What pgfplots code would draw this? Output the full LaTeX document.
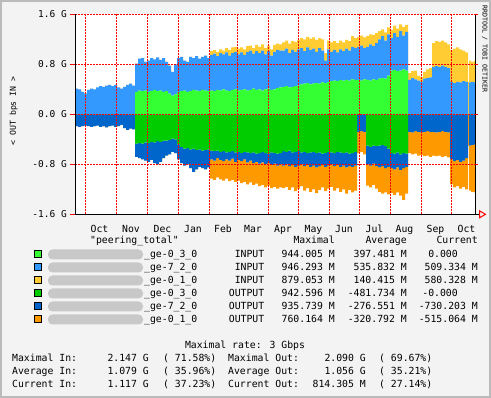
\documentclass[border=0pt]{standalone}
\usepackage{fontspec}
\usepackage{pgfplots}
\pgfplotsset{compat=1.18}
\usepackage{pgfplotstable}
\newfontfamily\mono{DejaVu Sans Mono}
\newcommand\lf{\mono\fontsize{9.8bp}{11bp}\selectfont}
\newcommand\tf{\mono\fontsize{9.5bp}{11bp}\selectfont}
\definecolor{gin}{HTML}{33FF33}
\definecolor{bin}{HTML}{3399FF}
\definecolor{yin}{HTML}{FFCC33}
\definecolor{gout}{HTML}{00CC00}
\definecolor{bout}{HTML}{0066CC}
\definecolor{oout}{HTML}{FF9900}
\definecolor{bgc}{HTML}{F3F3F3}
\definecolor{frm}{HTML}{BBBBBB}
\definecolor{blob}{HTML}{C8C8C8}
\definecolor{gridred}{HTML}{FF0000}

\pgfplotstableread{
x gin bin yin gout bout oout
0 0 0.41 0 0 -0.19 0
3 0 0.40 0 0 -0.20 0
6 0 0.36 0 0 -0.19 0
9 0 0.33 0 0 -0.18 0
12 0 0.39 0 0 -0.19 0
15 0 0.41 0 0 -0.20 0
18 0 0.40 0 0 -0.19 0
21 0 0.43 0 0 -0.18 0
24 0 0.45 0 0 -0.20 0
27 0 0.44 0 0 -0.19 0
30 0 0.46 0 0 -0.21 0
33 0 0.47 0 0 -0.19 0
36 0 0.45 0 0 -0.18 0
39 0 0.47 0 0 -0.20 0
42 0 0.43 0 0 -0.19 0
45 0 0.41 0 0 -0.17 0
48 0 0.44 0 0 -0.22 0
51 0 0.47 0 0 -0.25 0
54 0 0.49 0 0 -0.23 0
57 0 0.46 0 0 -0.24 0
60 0.36 0.45 0 -0.47 -0.21 0
63 0.38 0.51 0 -0.46 -0.24 0
66 0.37 0.53 0 -0.47 -0.25 0
69 0.38 0.46 0 -0.45 -0.29 0
72 0.36 0.50 0 -0.46 -0.30 0
75 0.37 0.53 0 -0.44 -0.29 0
78 0.39 0.49 0 -0.45 -0.33 0
81 0.37 0.54 0 -0.43 -0.37 0
84 0.38 0.49 0 -0.44 -0.32 0
87 0.36 0.54 0 -0.42 -0.28 0
90 0.37 0.47 0 -0.42 -0.24 0
93 0.33 0.45 0 -0.41 -0.23 0
96 0.30 0.38 0 -0.39 -0.21 0
99 0.32 0.48 0 -0.40 -0.22 0
102 0.36 0.54 0 -0.48 -0.24 0
105 0.37 0.55 0 -0.52 -0.26 0
108 0.38 0.48 0 -0.55 -0.27 0
111 0.36 0.48 0 -0.54 -0.26 0
114 0.37 0.55 0 -0.56 -0.30 0
117 0.39 0.51 0 -0.55 -0.37 0
120 0.38 0.55 0 -0.57 -0.31 0
123 0.37 0.52 0 -0.56 -0.28 0
126 0.39 0.53 0 -0.58 -0.28 0
129 0.38 0.56 0 -0.57 -0.31 0
132 0.37 0.53 0 -0.56 -0.29 0
135 0.38 0.57 0.06 -0.58 -0.14 -0.31
138 0.37 0.60 0.06 -0.59 -0.15 -0.31
141 0.39 0.54 0.07 -0.58 -0.12 -0.31
144 0.38 0.60 0.06 -0.60 -0.13 -0.31
147 0.40 0.56 0.06 -0.59 -0.16 -0.31
150 0.38 0.61 0.07 -0.61 -0.11 -0.31
153 0.37 0.57 0.09 -0.60 -0.14 -0.33
156 0.39 0.59 0.09 -0.59 -0.12 -0.34
159 0.40 0.60 0.08 -0.61 -0.15 -0.32
162 0.38 0.58 0.09 -0.60 -0.13 -0.33
165 0.39 0.60 0.08 -0.62 -0.13 -0.35
168 0.40 0.55 0.09 -0.60 -0.12 -0.36
171 0.38 0.62 0.09 -0.61 -0.16 -0.35
174 0.39 0.63 0.08 -0.62 -0.12 -0.35
177 0.41 0.56 0.09 -0.61 -0.17 -0.35
180 0.39 0.62 0.10 -0.63 -0.13 -0.35
183 0.40 0.58 0.10 -0.62 -0.17 -0.36
186 0.38 0.64 0.10 -0.60 -0.17 -0.36
189 0.40 0.56 0.10 -0.62 -0.18 -0.37
192 0.41 0.60 0.09 -0.63 -0.15 -0.36
195 0.39 0.55 0.10 -0.61 -0.20 -0.37
198 0.40 0.60 0.11 -0.62 -0.17 -0.37
201 0.42 0.61 0.10 -0.63 -0.19 -0.37
204 0.43 0.59 0.10 -0.62 -0.18 -0.37
207 0.44 0.58 0.13 -0.59 -0.23 -0.36
210 0.45 0.60 0.13 -0.60 -0.20 -0.36
213 0.43 0.55 0.15 -0.58 -0.25 -0.38
216 0.44 0.59 0.14 -0.61 -0.20 -0.36
219 0.45 0.55 0.16 -0.60 -0.24 -0.39
222 0.46 0.58 0.15 -0.59 -0.23 -0.37
225 0.48 0.58 0.16 -0.61 -0.19 -0.35
228 0.49 0.52 0.19 -0.60 -0.23 -0.39
231 0.50 0.57 0.17 -0.62 -0.19 -0.37
234 0.48 0.55 0.18 -0.61 -0.23 -0.40
237 0.49 0.56 0.18 -0.60 -0.22 -0.38
240 0.50 0.50 0.19 -0.62 -0.23 -0.41
243 0.49 0.57 0.16 -0.61 -0.22 -0.38
246 0.51 0.51 0.18 -0.63 -0.18 -0.36
249 0.50 0.36 0.12 -0.62 -0.22 -0.39
252 0.52 0.52 0.14 -0.60 -0.22 -0.37
255 0.53 0.47 0.15 -0.61 -0.19 -0.36
258 0.54 0.49 0.14 -0.62 -0.21 -0.39
261 0.53 0.46 0.15 -0.60 -0.21 -0.37
264 0.55 0.49 0.14 -0.61 -0.23 -0.40
267 0.54 0.47 0.14 -0.62 -0.20 -0.38
270 0.55 0.50 0.14 -0.61 -0.24 -0.42
273 0.54 0.48 0.15 -0.63 -0.20 -0.38
276 0.56 0.52 0.17 -0.62 -0.22 -0.41
279 0.55 0.51 0.16 -0.60 -0.22 -0.40
282 0.55 0.53 0.16 0 -0.28 -0.34
285 0.54 0.56 0.16 0 -0.27 -0.33
288 0.56 0.50 0.17 0 -0.28 -0.36
291 0.55 0.53 0.17 -0.50 -0.30 -0.34
294 0.54 0.58 0.16 -0.52 -0.30 -0.35
297 0.56 0.53 0.18 -0.50 -0.29 -0.34
300 0.55 0.59 0.16 -0.51 -0.32 -0.36
303 0.57 0.63 0.13 -0.50 -0.35 -0.39
306 0.58 0.67 0.11 -0.49 -0.34 -0.44
309 0.57 0.61 0.13 -0.51 -0.35 -0.39
312 0.62 0.66 0.11 -0.55 -0.29 -0.44
315 0.70 0.52 0.13 -0.62 -0.24 -0.40
318 0.71 0.59 0.12 -0.63 -0.25 -0.41
321 0.69 0.55 0.13 -0.61 -0.24 -0.40
324 0.70 0.63 0.11 -0.64 -0.25 -0.41
327 0.72 0.54 0.14 -0.62 -0.24 -0.51
330 0.70 0.62 0.11 -0.63 -0.21 -0.43
333 0 0.55 0.11 0 -0.28 -0.34
336 0 0.58 0.11 0 -0.29 -0.35
339 0 0.56 0.14 0 -0.27 -0.36
342 0 0.54 0.08 0 -0.28 -0.38
345 0 0.52 0.08 0 -0.29 -0.36
348 0 0.57 0.11 0 -0.28 -0.39
351 0 0.58 0.14 0 -0.27 -0.39
354 0 0.59 0.15 0 -0.28 -0.40
357 0 0.76 0.38 0 -0.28 -0.38
360 0 0.77 0.40 0 -0.29 -0.38
363 0 0.76 0.40 0 -0.28 -0.38
366 0 0.78 0.40 0 -0.27 -0.41
369 0 0.76 0.39 0 -0.28 -0.39
372 0 0.74 0.38 0 -0.29 -0.40
375 0 0.52 0.51 0 -0.72 -0.40
378 0 0.50 0.55 0 -0.75 -0.42
381 0 0.52 0.55 0 -0.73 -0.42
384 0 0.51 0.53 0 -0.76 -0.43
387 0 0.53 0.49 0 -0.74 -0.42
390 0 0.52 0.47 0 -0.70 -0.50
393 0 0 0.52 0 0 -0.50
394 0 0.51 0.35 0 -0.50 -0.72
396 0 0.52 0.32 0 -0.49 -0.75
399 0 0.51 0.35 0 -0.48 -0.77
400 0 0.51 0.35 0 -0.48 -0.77
}\traffic

\pgfplotsset{rrd/.style={at={(75bp,183.7bp)}, anchor=south west,
  width=400bp, height=200bp, scale only axis,
  xmin=0, xmax=400, ymin=-1.6, ymax=1.6}}

\begin{document}
\begin{tikzpicture}
\fill[frm] (0,0) rectangle (491bp,398bp);
\fill[bgc] (2bp,2bp) rectangle (489bp,396bp);
\fill[white] (75bp,183.7bp) rectangle (475bp,383.7bp);

\begin{axis}[rrd, hide axis, stack plots=y]
\addplot[fill=gin, draw=none, const plot] table[x=x,y=gin]{\traffic} \closedcycle;
\addplot[fill=bin, draw=none, const plot] table[x=x,y=bin]{\traffic} \closedcycle;
\addplot[fill=yin, draw=none, const plot] table[x=x,y=yin]{\traffic} \closedcycle;
\end{axis}

\begin{axis}[rrd, hide axis, stack plots=y]
\addplot[fill=gout, draw=none, const plot] table[x=x,y=gout]{\traffic} \closedcycle;
\addplot[fill=bout, draw=none, const plot] table[x=x,y=bout]{\traffic} \closedcycle;
\addplot[fill=oout, draw=none, const plot] table[x=x,y=oout]{\traffic} \closedcycle;
\end{axis}

\begin{axis}[rrd, clip=false, axis line style={draw=none},
  xtick={24.5,56,87.5,118,148,178,208,238.5,269,299.5,329.5,360.5,391.5},
  xticklabels={Oct,Nov,Dec,Jan,Feb,Mar,Apr,May,Jun,Jul,Aug,Sep,Oct},
  xtick style={draw=none},
  xticklabel style={font=\lf, anchor=base, inner sep=0pt, yshift=-13bp},
  extra x ticks={10.3,41.3,72.3,103.7,134.3,162.3,193.3,223.3,254.3,284.3,315.3,346.3,376.3},
  extra x tick labels={},
  extra x tick style={grid=none, tick style={color=gridred, line width=1bp}, major tick length=3bp, tick align=outside, xtick pos=bottom},
  ytick={-1.6,-0.8,0,0.8,1.6},
  yticklabels={-1.6 G,-0.8 G,0.0 G,0.8 G,1.6 G},
  ytick pos=left, tick align=outside, major tick length=5bp,
  ytick style={color=gridred, line width=1bp},
  yticklabel style={font=\tf, anchor=east, inner sep=0pt, xshift=-3bp},
]
\addplot[draw=none] coordinates {(0,0)};
% dotted red grid on top of the areas
\foreach \gx in {10.3,41.3,72.3,103.7,134.3,162.3,193.3,223.3,254.3,284.3,315.3,346.3,376.3}{
  \edef\tmp{\noexpand\draw[color=gridred, line width=1bp, dash pattern=on 2bp off 1bp] (axis cs:\gx,-1.6) -- (axis cs:\gx,1.6);}\tmp
}
\foreach \gy in {-0.8,0,0.8,1.6}{
  \edef\tmp{\noexpand\draw[color=gridred, line width=1bp, dash pattern=on 2bp off 1bp] (axis cs:0,\gy) -- (axis cs:400,\gy);}\tmp
}
\draw[line width=1bp] (axis cs:0,-1.6) -- (axis cs:0,1.6);
\draw[line width=1bp] (axis cs:400,-1.6) -- (axis cs:400,1.6);
\draw[line width=1bp] (axis cs:0,-1.6) -- ([xshift=4bp]axis cs:400,-1.6);
\draw[gridred, line width=1bp] ([xshift=4.5bp,yshift=-3.5bp]axis cs:400,-1.6) -- ++(6bp,3.5bp) -- ++(-6bp,3.5bp) -- cycle;
\draw[gridred, line width=1bp] (axis cs:400,1.6) -- ([xshift=3bp]axis cs:400,1.6);
\draw[gridred, line width=1bp] (axis cs:400,0.8) -- ([xshift=3bp]axis cs:400,0.8);
\draw[gridred, line width=1bp] (axis cs:400,0) -- ([xshift=3bp]axis cs:400,0);
\draw[gridred, line width=1bp] (axis cs:400,-0.8) -- ([xshift=3bp]axis cs:400,-0.8);
\end{axis}

\begin{scope}[shift={(0bp,398bp)}, x=1bp, y=-1bp, every node/.style={inner sep=0pt, font=\lf}]
\node[rotate=90, font=\mono\fontsize{8.2bp}{10bp}\selectfont] at (13.5,111) {< OUT bps IN >};
\node[rotate=-90, anchor=west, font=\mono\fontsize{6.6bp}{8bp}\selectfont] at (484.7,5) {RRDTOOL / TOBI OETIKER};

\node[anchor=base west] at (90,244) {"peering\_total"};
\node[anchor=base east] at (335,244) {Maximal};
\node[anchor=base east] at (407,244) {Average};
\node[anchor=base east] at (478,244) {Current};

\foreach \b/\c/\n/\d/\m/\a/\cu/\cx in {
  258/gin/0\_3\_0/INPUT/944.005 M/397.481 M/0.000/458,
  271/bin/7\_2\_0/INPUT/946.293 M/535.832 M/509.334 M/478,
  284/yin/0\_1\_0/INPUT/879.053 M/140.415 M/580.328 M/478,
  297/gout/0\_3\_0/OUTPUT/942.596 M/-481.734 M/-0.000/458,
  310/bout/7\_2\_0/OUTPUT/935.739 M/-276.551 M/-730.203 M/478,
  323/oout/0\_1\_0/OUTPUT/760.164 M/-320.792 M/-515.064 M/478}{
  \filldraw[fill=\c, draw=black, line width=1bp] (34.8,\b-7.1) rectangle (41.8,\b-0.1);
  \fill[blob, rounded corners=4.5] (48,\b-8.5) rectangle (143,\b+1.5);
  \node[anchor=base west] at (144,\b) {\_ge-\n};
  \node[anchor=base east] at (264.5,\b) {\d};
  \node[anchor=base east] at (335,\b) {\m};
  \node[anchor=base east] at (407,\b) {\a};
  \node[anchor=base east] at (\cx,\b) {\cu};
}

\node[anchor=base] at (245,349) {Maximal rate: 3 Gbps};
\foreach \b/\l/\v/\p/\lo/\vo/\po in {
  362/Maximal In:/2.147 G/71.58/Maximal Out:/2.090 G/69.67,
  375/Average In:/1.079 G/35.96/Average Out:/1.056 G/35.21,
  387.5/Current In:/1.117 G/37.23/Current Out:/814.305 M/27.14}{
  \node[anchor=base west] at (12,\b) {\l};
  \node[anchor=base east] at (149,\b) {\v};
  \node[anchor=base west] at (163,\b) {( \p\%)};
  \node[anchor=base west] at (228,\b) {\lo};
  \node[anchor=base east] at (366,\b) {\vo};
  \node[anchor=base west] at (379,\b) {( \po\%)};
}
\end{scope}
\end{tikzpicture}
\end{document}
